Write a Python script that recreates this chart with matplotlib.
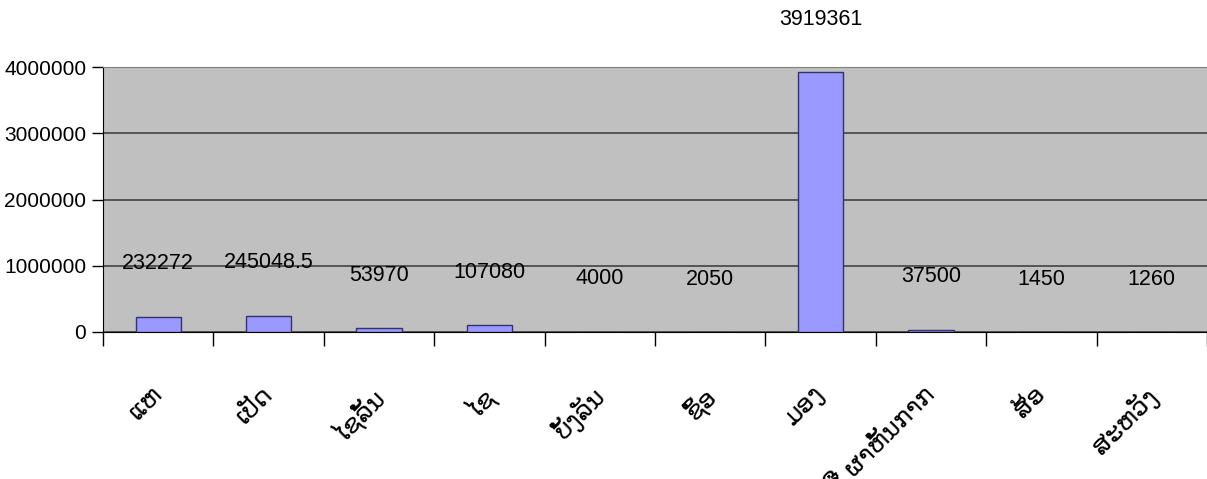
import matplotlib.pyplot as plt
import numpy as np

plt.rcParams['font.family'] = ['Liberation Sans', 'DejaVu Sans']

categories = ['ແຫ', 'ເປັດ', 'ໄຊລັ້ນ', 'ໄຊ', 'ບັ້ງລັນ', 'ຊົ້ອ', 'ມອງ',
              'ສື ຜາຫັ້ນກາກ', 'ສ້ອ', 'ສະຫວັງ']
values = [232272, 245048.5, 53970, 107080, 4000, 2050, 3919361, 37500, 1450, 1260]
value_labels = ['232272', '245048.5', '53970', '107080', '4000', '2050',
                '3919361', '37500', '1450', '1260']
yticks = [0, 1000000, 2000000, 3000000, 4000000]

fig = plt.figure(figsize=(12.07, 4.79), dpi=100)
ax = fig.add_axes([0.0853, 0.3069, 0.9147, 0.5531])
ax.set_facecolor('#C0C0C0')

x = np.arange(len(categories))
ax.bar(x, values, width=0.41, color='#9999FF', edgecolor='#333366', linewidth=1, zorder=3)

for xi, v, lab in zip(x, values, value_labels):
    ax.annotate(lab, (xi, v), xytext=(0, 38), textcoords='offset points',
                ha='center', va='center', fontsize=15.5, color='black',
                annotation_clip=False, zorder=4)

# category names, rotated, slightly left of the category centre
for xi, cat in zip(x, categories):
    ax.annotate(cat, (xi, 0), xycoords=('data', 'axes fraction'),
                xytext=(-6, -36), textcoords='offset points',
                rotation=45, ha='right', va='top', rotation_mode='anchor',
                fontsize=18, family=['DejaVu Sans'], annotation_clip=False)

ax.set_xlim(-0.5, len(categories) - 0.5)
ax.set_ylim(0, 4000000)
ax.set_yticks(yticks)
ax.set_yticklabels([str(t) for t in yticks], fontsize=15)
ax.yaxis.grid(True, color='#555555', linewidth=1.4, zorder=1)
ax.set_axisbelow(True)

# category ticks at boundaries
ax.set_xticks(np.arange(len(categories) + 1) - 0.5)
ax.set_xticklabels([])
ax.tick_params(axis='x', length=10, width=1, color='black')
ax.tick_params(axis='y', length=8, width=1, color='black', pad=4)

ax.spines['right'].set_visible(False)
ax.spines['top'].set_color('#808080')
ax.spines['left'].set_color('black')
ax.spines['bottom'].set_color('black')

fig.savefig('out.png', dpi=100)
